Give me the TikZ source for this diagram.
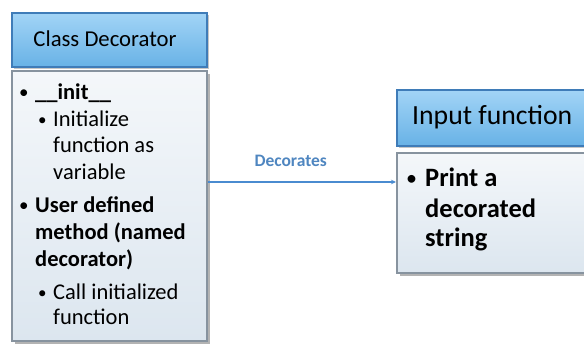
\documentclass[tikz,border=0pt]{standalone}
\usepackage{fontspec}
\setmainfont{Carlito}
\usetikzlibrary{arrows.meta,shadows}
\definecolor{hdtop}{HTML}{A2D4F6}
\definecolor{hdbot}{HTML}{68B2E6}
\definecolor{hdborder}{HTML}{3F7CB8}
\definecolor{bdtop}{HTML}{F4F7FA}
\definecolor{bdbot}{HTML}{DCE6EF}
\definecolor{bdborder}{HTML}{87939F}
\definecolor{arrowblue}{HTML}{4A8BD0}
\definecolor{labelblue}{HTML}{4F86C0}
\tikzset{
  hdbox/.style={draw=hdborder, line width=2pt, top color=hdtop, bottom color=hdbot,
    minimum width=#1, inner sep=0pt, drop shadow={shadow xshift=2pt, shadow yshift=-2pt, opacity=.45}},
  bdbox/.style={draw=bdborder, line width=2pt, top color=bdtop, bottom color=bdbot,
    inner sep=0pt, drop shadow={shadow xshift=3pt, shadow yshift=-3pt, opacity=.6}},
  ln/.style={anchor=base west, inner sep=0pt, font=\fontsize{#1}{#1}\selectfont},
  lnb/.style={anchor=base west, inner sep=0pt, font=\fontsize{#1}{#1}\selectfont\bfseries},
}
\begin{document}
\begin{tikzpicture}[x=1pt,y=1pt]
\useasboundingbox (0,0) rectangle (584,355);
% left class box
\node[hdbox=195pt, minimum height=54pt] (lh) at (109.5,315) {};
\node[bdbox, minimum width=195pt, minimum height=270pt] (lb) at (109.5,149) {};
\node[ln=22.7, anchor=base] (lht) at (105,308) {Class Decorator};
% left body text
\node[ln=19] (b1) at (19,256) {•};
\node[lnb=22.5] (t1) at (35,255) {\_\_init\_\_};
\node[ln=17] (b2) at (38,229) {•};
\node[ln=22.5] (t2) at (53,228) {Initialize};
\node[ln=22.5] (t3) at (53,202) {function as};
\node[ln=22.5] (t4) at (53,175) {variable};
\node[ln=19] (b3) at (19,143) {•};
\node[lnb=22.5] (t5) at (35,142) {User defined};
\node[lnb=22.5] (t6) at (35,115) {method (named};
\node[lnb=22.5] (t7) at (35,88) {decorator)};
\node[ln=17] (b4) at (38,56) {•};
\node[ln=22.5] (t8) at (53,55) {Call initialized};
\node[ln=22.5] (t9) at (53,30) {function};
% right input box
\node[hdbox=200pt, minimum height=56pt] (rh) at (497,237) {};
\node[bdbox, minimum width=200pt, minimum height=120pt] (rb) at (497,142) {};
\node[ln=27.7] (rht) at (412,230) {Input function};
\node[ln=22] (rb1) at (406,169) {•};
\node[lnb=26.5] (r1) at (425,168) {Print a};
\node[lnb=26.5] (r2) at (425,137) {decorated};
\node[lnb=26.5] (r3) at (425,108) {string};
% connector
\coordinate (ay) at (0,173);
\draw[arrowblue, line width=1.2pt, -{Stealth[length=5pt,width=4.5pt]}] (lb.east |- ay) -- (rb.west |- ay)
  node[pos=0.44, above=11pt, text=labelblue, font=\fontsize{17.5}{17.5}\selectfont\bfseries] (lbl) {Decorates};
\end{tikzpicture}
\end{document}
